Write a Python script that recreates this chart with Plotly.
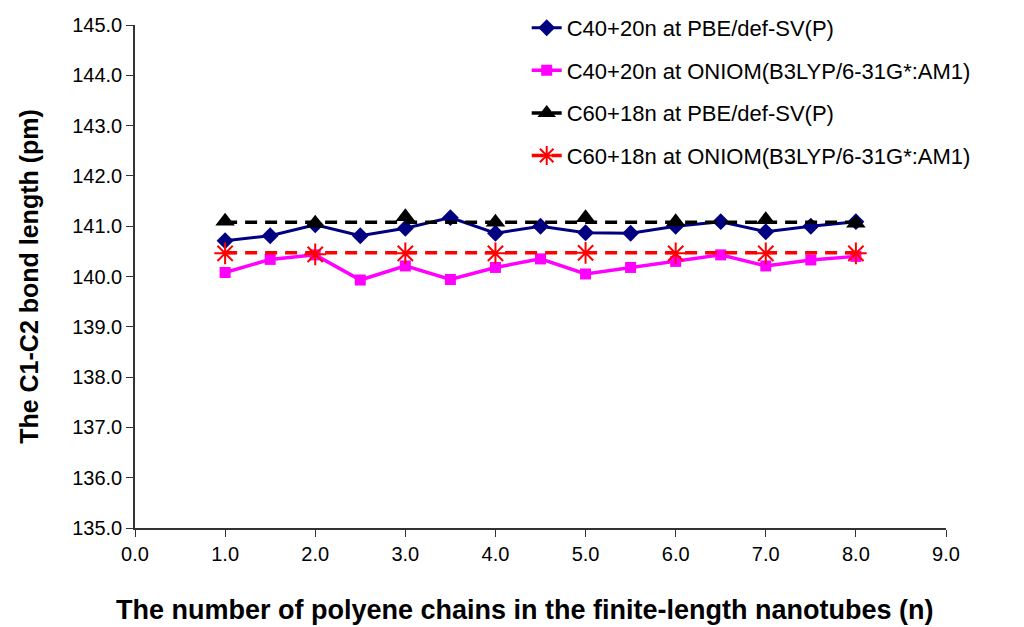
import plotly.graph_objects as go

# Data
n_half = [1.0, 1.5, 2.0, 2.5, 3.0, 3.5, 4.0, 4.5, 5.0, 5.5, 6.0, 6.5, 7.0, 7.5, 8.0]
c40_pbe = [140.71, 140.81, 141.03, 140.81, 140.96, 141.17, 140.86, 141.00, 140.87, 140.86, 141.00, 141.09, 140.89, 141.00, 141.09]
c40_oniom = [140.08, 140.34, 140.43, 139.93, 140.21, 139.94, 140.18, 140.35, 140.05, 140.18, 140.30, 140.43, 140.21, 140.33, 140.40]

n_int = [1.0, 2.0, 3.0, 4.0, 5.0, 6.0, 7.0, 8.0]
c60_pbe = [141.10, 141.06, 141.19, 141.08, 141.17, 141.09, 141.13, 141.06]
c60_oniom = [140.46, 140.44, 140.46, 140.46, 140.47, 140.46, 140.46, 140.46]

# Flat dashed reference lines as drawn in the chart
c60_pbe_line_x = [1.0, 8.0]
c60_pbe_line_y = [141.08, 141.08]
c60_oniom_line_x = [1.0, 8.0]
c60_oniom_line_y = [140.47, 140.47]

names = [
    "C40+20n at PBE/def-SV(P)",
    "C40+20n at ONIOM(B3LYP/6-31G*:AM1)",
    "C60+18n at PBE/def-SV(P)",
    "C60+18n at ONIOM(B3LYP/6-31G*:AM1)",
]

x_ticks = [0, 1, 2, 3, 4, 5, 6, 7, 8, 9]
y_ticks = [135, 136, 137, 138, 139, 140, 141, 142, 143, 144, 145]

x_title = "The number of polyene chains in the finite-length nanotubes (n)"
y_title = "The C1-C2 bond length (pm)"

DASH = "12px,8px"
fig = go.Figure()

fig.add_trace(go.Scatter(
    x=n_half, y=c40_pbe, mode="lines+markers", name=names[0], legendgroup="g1",
    line=dict(color="#000080", width=3),
    marker=dict(symbol="diamond", size=13, color="#000080"),
))
fig.add_trace(go.Scatter(
    x=n_half, y=c40_oniom, mode="lines+markers", name=names[1], legendgroup="g2",
    line=dict(color="#FF00FF", width=3.5),
    marker=dict(symbol="square", size=11, color="#FF00FF"),
))

# C60 PBE: flat dashed line + triangle markers, legend via dummy trace
fig.add_trace(go.Scatter(
    x=c60_pbe_line_x, y=c60_pbe_line_y, mode="lines", showlegend=False, legendgroup="g3",
    line=dict(color="black", width=3.5, dash=DASH), hoverinfo="skip",
))
fig.add_trace(go.Scatter(
    x=n_int, y=c60_pbe, mode="markers", showlegend=False, legendgroup="g3",
    marker=dict(symbol="triangle-up", size=17, color="black"),
))
fig.add_trace(go.Scatter(
    x=[None], y=[None], mode="lines+markers", name=names[2], legendgroup="g3",
    line=dict(color="black", width=3.5, dash=DASH),
    marker=dict(symbol="triangle-up", size=17, color="black"),
))

# C60 ONIOM: flat dashed line + asterisk markers
fig.add_trace(go.Scatter(
    x=c60_oniom_line_x, y=c60_oniom_line_y, mode="lines", showlegend=False, legendgroup="g4",
    line=dict(color="#FF0000", width=3.5, dash=DASH), hoverinfo="skip",
))
fig.add_trace(go.Scatter(
    x=n_int, y=c60_oniom, mode="markers", showlegend=False, legendgroup="g4",
    marker=dict(symbol="asterisk-open", size=18, color="#FF0000",
                line=dict(color="#FF0000", width=2)),
))
fig.add_trace(go.Scatter(
    x=[None], y=[None], mode="lines+markers", name=names[3], legendgroup="g4",
    line=dict(color="#FF0000", width=3.5, dash=DASH),
    marker=dict(symbol="asterisk-open", size=18, color="#FF0000",
                line=dict(color="#FF0000", width=2)),
))

font_family = "Liberation Sans, Arial, sans-serif"

fig.update_layout(
    width=1008, height=619,
    margin=dict(l=127, r=70, t=17, b=99, autoexpand=False),
    paper_bgcolor="white", plot_bgcolor="white",
    font=dict(family=font_family, color="black", size=20),
    showlegend=True,
    legend=dict(
        x=0.483, y=1.036, xanchor="left", yanchor="top",
        font=dict(size=22, family=font_family, color="black"),
        bgcolor="rgba(255,255,255,0)",
        traceorder="grouped", tracegroupgap=11,
    ),
    xaxis=dict(
        range=[0, 9], tickvals=x_ticks, tickformat=".1f",
        showgrid=False, zeroline=False, automargin=False,
        showline=True, linecolor="#333333", linewidth=1.5,
        ticks="outside", ticklen=7, tickcolor="#333333",
        tickfont=dict(size=20),
    ),
    yaxis=dict(
        range=[135, 145], tickvals=y_ticks, tickformat=".1f",
        showgrid=False, zeroline=False, automargin=False,
        showline=True, linecolor="#333333", linewidth=1.5,
        ticks="outside", ticklen=7, tickcolor="#333333",
        tickfont=dict(size=20),
        title=dict(text="<b>" + y_title + "</b>", font=dict(size=25), standoff=26),
    ),
    annotations=[dict(
        text="<b>" + x_title + "</b>", xref="paper", yref="paper",
        x=0.481, y=-0.163, xanchor="center", yanchor="middle",
        showarrow=False, font=dict(size=27, family=font_family, color="black"),
    )],
)

fig.write_html("out.html")
